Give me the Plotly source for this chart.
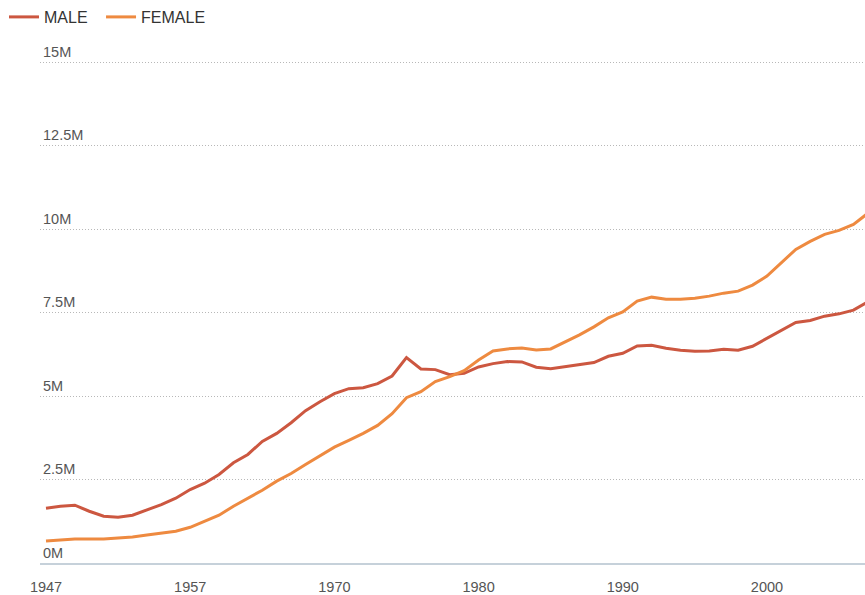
import plotly.graph_objects as go

years = ["1947", "1948", "1949", "1950", "1951", "1952", "1953", "1954", "1955", "1956",
         "1957", "1959", "1961", "1963", "1964", "1965", "1966", "1967", "1968", "1969",
         "1970", "1971", "1972", "1973", "1974", "1975", "1976", "1977", "1978", "1979",
         "1980", "1981", "1982", "1983", "1984", "1985", "1986", "1987", "1988", "1989",
         "1990", "1991", "1992", "1993", "1994", "1995", "1996", "1997", "1998", "1999",
         "2000", "2001", "2002", "2003", "2004", "2005", "2006", "2007"]

male = [1.64, 1.70, 1.73, 1.55, 1.40, 1.37, 1.43, 1.58, 1.75, 1.94,
        2.20, 2.39, 2.65, 3.00, 3.25, 3.64, 3.88, 4.20, 4.56, 4.83,
        5.07, 5.22, 5.25, 5.37, 5.60, 6.15, 5.81, 5.79, 5.64, 5.68,
        5.87, 5.97, 6.03, 6.02, 5.86, 5.82, 5.88, 5.93, 6.00, 6.19,
        6.28, 6.50, 6.52, 6.43, 6.37, 6.34, 6.35, 6.40, 6.37, 6.49,
        6.72, 6.96, 7.20, 7.26, 7.39, 7.46, 7.57, 7.82]

female = [0.66, 0.69, 0.72, 0.72, 0.72, 0.75, 0.78, 0.84, 0.89, 0.95,
          1.07, 1.25, 1.43, 1.70, 1.94, 2.18, 2.45, 2.68, 2.95, 3.22,
          3.47, 3.67, 3.88, 4.12, 4.47, 4.95, 5.13, 5.43, 5.58, 5.76,
          6.08, 6.35, 6.41, 6.44, 6.38, 6.41, 6.62, 6.83, 7.07, 7.34,
          7.52, 7.84, 7.96, 7.90, 7.90, 7.93, 7.99, 8.08, 8.14, 8.32,
          8.59, 8.98, 9.39, 9.63, 9.84, 9.96, 10.14, 10.47]

x_tick_years = ["1947", "1957", "1970", "1980", "1990", "2000"]
y_tick_vals = [0, 2.5e6, 5e6, 7.5e6, 10e6, 12.5e6, 15e6]
y_tick_text = ["0M", "2.5M", "5M", "7.5M", "10M", "12.5M", "15M"]

fig = go.Figure()
fig.add_trace(go.Scatter(x=years, y=[v * 1e6 for v in male], name="MALE", mode="lines",
                         line=dict(color="#cc5740", width=3), legend="legend"))
fig.add_trace(go.Scatter(x=years, y=[v * 1e6 for v in female], name="FEMALE", mode="lines",
                         line=dict(color="#ee8a40", width=3), legend="legend2"))

legend_style = dict(orientation="h", xref="container", xanchor="left",
                    y=1.0, yref="container", yanchor="top",
                    font=dict(size=16, color="#333"),
                    itemwidth=30, bgcolor="rgba(0,0,0,0)")

fig.update_layout(
    width=865, height=595,
    margin=dict(l=40, r=0, t=55, b=30),
    paper_bgcolor="white", plot_bgcolor="white",
    font=dict(family="Liberation Sans, Arial, sans-serif", size=14, color="#444"),
    showlegend=True,
    legend=dict(x=0.0046, **legend_style),
    legend2=dict(x=0.1168, **legend_style),
    xaxis=dict(type="category", range=[-0.416, 56.8], tickmode="array",
               tickvals=x_tick_years, ticktext=x_tick_years, showgrid=False,
               showline=True, linecolor="#c6d1da", linewidth=2, ticks="",
               ticklabelstandoff=10, ticklabeloverflow="allow",
               tickfont=dict(size=14.5, color="#555"), zeroline=False),
    yaxis=dict(range=[0, 15.21e6], tickmode="array", tickvals=y_tick_vals, ticktext=y_tick_text,
               showgrid=True, gridcolor="#b8b8b8", griddash="1px,2px", gridwidth=1,
               zeroline=False, showline=False, ticks="",
               ticklabelposition="inside top", ticklabeloverflow="allow",
               tickfont=dict(size=14.5, color="#555")),
)

fig.write_html("out.html", config={"displayModeBar": False},
               post_script="document.body.style.margin='0';document.body.style.overflow='hidden';")
